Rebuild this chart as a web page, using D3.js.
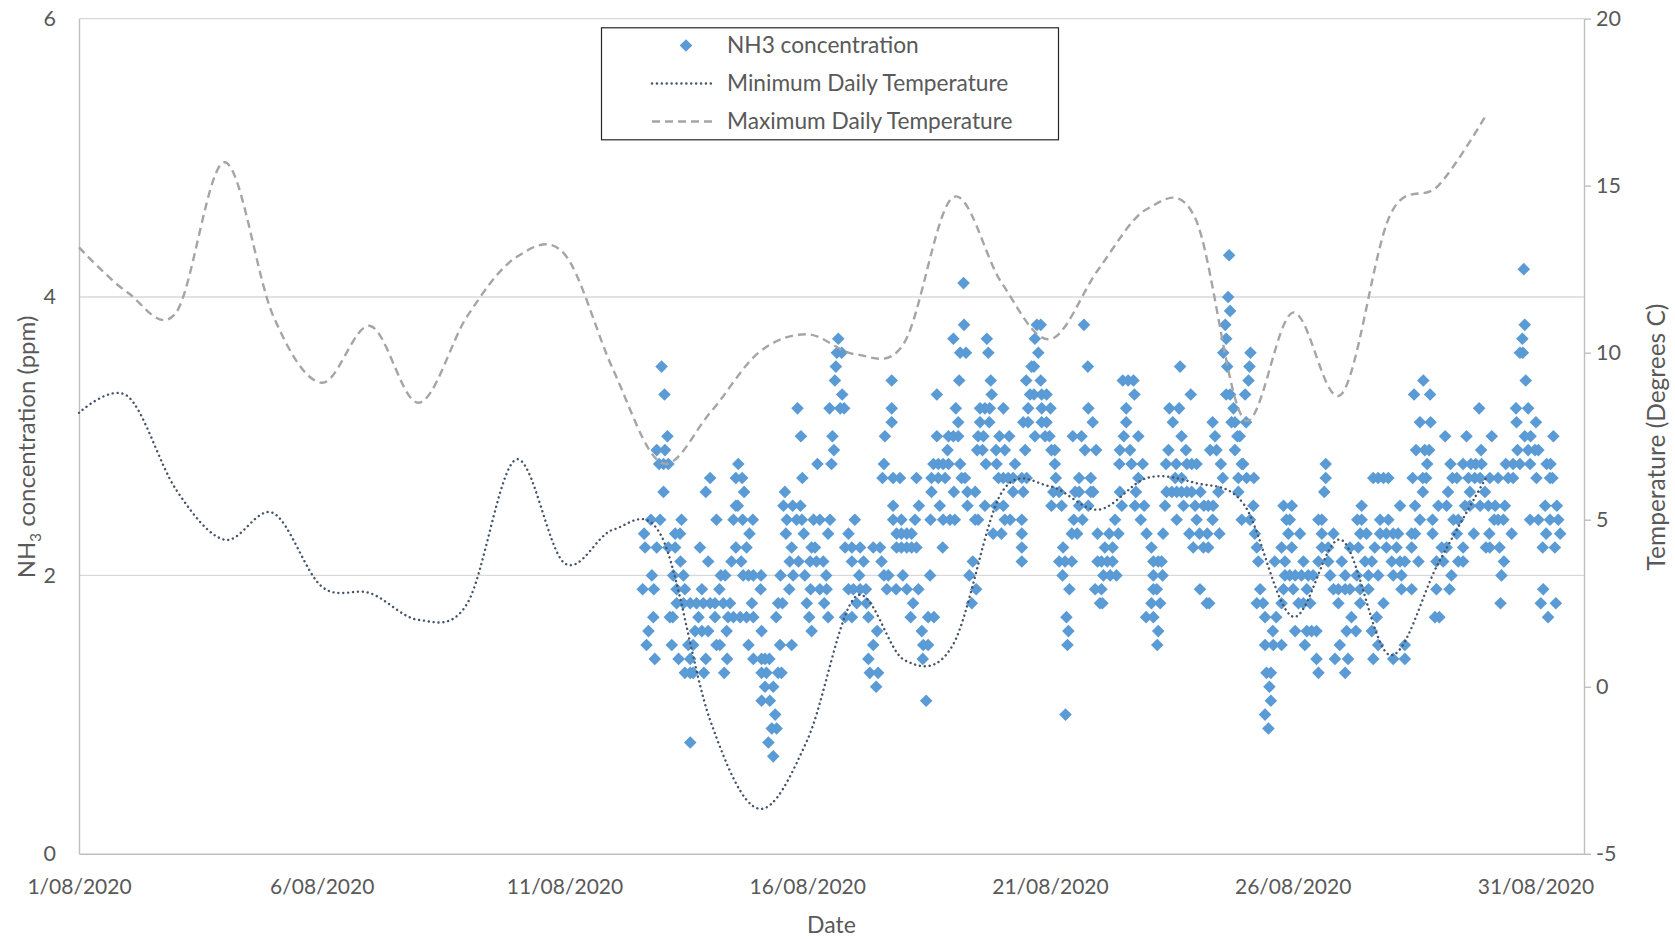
<!DOCTYPE html>
<html>
<head>
<meta charset="utf-8">
<script src="https://cdn.jsdelivr.net/npm/d3@7"></script>
<style>
  body { margin: 0; background: #fff; }
  text { font-family: Lato, "Open Sans", sans-serif; }
</style>
</head>
<body>
<div id="chart"></div>
<script>
// Daily temperatures (deg C), one value per day of August
const tempDays = [1, 2, 3, 4, 5, 6, 7, 8, 9, 10, 11, 12, 13, 14, 15, 16, 17, 18, 19, 20, 21, 22, 23, 24, 25, 26, 27, 28, 29, 30];
const maxTemp = [13.15, 11.8, 11.2, 15.7, 11.1, 9.1, 10.8, 8.5, 11.1, 12.85, 12.95, 9.5, 6.7, 8.2, 10.0, 10.55, 9.95, 10.3, 14.65, 12.1, 10.4, 12.5, 14.3, 14.0, 8.0, 11.2, 8.75, 14.1, 15.0, 17.15];
const minTemp = [8.2, 8.7, 5.9, 4.4, 5.2, 3.0, 2.8, 2.0, 2.5, 6.8, 3.7, 4.7, 4.5, -1.0, -3.65, -1.6, 2.7, 0.8, 1.25, 5.8, 6.0, 5.3, 6.25, 6.1, 5.45, 2.1, 4.4, 0.95, 3.7, 6.3];

// NH3 readings: [day of August (fractional), ppm]
const nh3 = [
  [13.00,3.5],[13.06,3.3],[13.12,3.0],[12.90,2.9],[13.07,2.9],[12.95,2.8],[13.04,2.8],[13.14,2.8],[14.00,2.7],[13.04,2.6],[13.91,2.6],[14.58,2.8],[14.53,2.7],[14.66,2.7],[14.70,2.6],[14.53,2.5],[14.57,2.5],
  [12.78,2.4],[12.97,2.4],[13.41,2.4],[14.13,2.4],[14.48,2.4],[14.67,2.4],[14.88,2.4],
  [12.64,2.3],[13.28,2.3],[13.38,2.3],[14.81,2.3],
  [12.66,2.2],[12.90,2.2],[13.14,2.2],[13.28,2.2],[13.79,2.2],[14.53,2.2],[14.75,2.2],
  [13.39,2.1],[13.96,2.1],[14.44,2.1],[14.64,2.1],
  [12.80,2.0],[13.24,2.0],[13.45,2.0],[14.22,2.0],[14.31,2.0],[14.68,2.0],[14.79,2.0],[14.89,2.0],
  [12.61,1.9],[12.84,1.9],[13.31,1.9],[13.48,1.9],[13.83,1.9],[14.19,1.9],
  [13.31,1.8],[13.45,1.8],[13.59,1.8],[13.72,1.8],[13.86,1.8],[14.00,1.8],[14.10,1.8],[14.27,1.8],[14.41,1.8],[14.86,1.8],
  [12.83,1.7],[13.17,1.7],[13.23,1.7],[13.76,1.7],[14.10,1.7],[14.37,1.7],[14.48,1.7],[14.62,1.7],[14.75,1.7],[14.89,1.7],
  [12.73,1.6],[13.69,1.6],[13.83,1.6],[13.96,1.6],[14.34,1.6],
  [12.69,1.5],[13.21,1.5],[13.55,1.5],[13.65,1.5],[14.13,1.5],[14.20,1.5],[14.79,1.5],
  [12.86,1.4],[13.35,1.4],[13.59,1.4],[13.91,1.4],[14.35,1.4],[14.89,1.4],
  [13.48,1.3],[13.59,1.3],[13.65,1.3],[13.87,1.3],[14.29,1.3],
  [13.59,0.8],
  [16.64,3.7],[16.61,3.6],[16.71,3.6],[16.59,3.5],[16.57,3.4],[16.72,3.3],
  [15.80,3.2],[16.46,3.2],[16.68,3.2],[16.76,3.2],
  [15.87,3.0],[16.52,3.0],[17.60,3.0],[16.55,2.9],
  [16.21,2.8],[16.50,2.8],[17.58,2.8],[15.90,2.7],[17.55,2.7],[15.54,2.6],
  [15.51,2.5],[15.70,2.5],[15.86,2.5],
  [15.58,2.4],[15.78,2.4],[15.89,2.4],[16.13,2.4],[16.26,2.4],[16.47,2.4],[16.98,2.4],
  [15.56,2.3],[15.93,2.3],[16.43,2.3],[16.85,2.3],
  [15.68,2.2],[16.09,2.2],[16.16,2.2],[16.78,2.2],[16.92,2.2],[17.09,2.2],[17.36,2.2],[17.50,2.2],
  [15.64,2.1],[15.82,2.1],[16.06,2.1],[16.19,2.1],[16.33,2.1],[16.92,2.1],[17.16,2.1],[17.53,2.1],
  [15.05,2.0],[15.45,2.0],[15.71,2.0],[15.95,2.0],[16.39,2.0],[17.07,2.0],[17.58,2.0],[17.67,2.0],
  [15.04,1.9],[15.63,1.9],[16.07,1.9],[16.26,1.9],[16.40,1.9],[16.85,1.9],[16.95,1.9],[17.09,1.9],[17.21,1.9],[17.64,1.9],
  [15.40,1.8],[15.49,1.8],[15.99,1.8],[16.35,1.8],[17.02,1.8],[17.22,1.8],
  [15.36,1.7],[16.04,1.7],[16.43,1.7],[16.78,1.7],[16.92,1.7],[17.26,1.7],
  [15.06,1.6],[16.09,1.6],[17.44,1.6],
  [15.44,1.5],[15.68,1.5],[17.36,1.5],
  [15.06,1.4],[15.13,1.4],[15.22,1.4],[17.26,1.4],
  [15.06,1.3],[15.16,1.3],[15.40,1.3],[15.47,1.3],[17.29,1.3],[17.46,1.3],
  [15.13,1.2],[15.30,1.2],[17.42,1.2],
  [15.06,1.1],[15.23,1.1],[15.34,1.0],[15.27,0.9],[15.37,0.9],[15.20,0.8],[15.30,0.7],
  [19.22,4.1],[19.23,3.8],[19.01,3.7],[19.70,3.7],[19.15,3.6],[19.27,3.6],[19.73,3.6],
  [17.74,3.4],[19.13,3.4],[19.78,3.4],[18.67,3.3],[19.80,3.3],
  [17.74,3.2],[19.06,3.2],[19.56,3.2],[19.66,3.2],[19.76,3.2],[20.04,3.2],
  [17.74,3.1],[19.11,3.1],[19.56,3.1],[19.75,3.1],
  [18.67,3.0],[18.91,3.0],[19.01,3.0],[19.11,3.0],[19.52,3.0],[19.63,3.0],[19.96,3.0],[20.16,3.0],
  [18.89,2.9],[19.50,2.9],[19.61,2.9],[19.89,2.9],[20.07,2.9],
  [18.60,2.8],[18.70,2.8],[18.80,2.8],[18.91,2.8],[19.15,2.8],[19.68,2.8],[19.90,2.8],[20.28,2.8],
  [17.77,2.7],[17.91,2.7],[18.25,2.7],[18.56,2.7],[18.70,2.7],[18.84,2.7],[19.18,2.7],[19.25,2.7],[19.94,2.7],[20.04,2.7],[20.14,2.7],[20.24,2.7],
  [18.56,2.6],[19.02,2.6],[19.30,2.6],[19.46,2.6],[20.24,2.6],
  [17.77,2.5],[18.30,2.5],[18.73,2.5],[19.30,2.5],[19.66,2.5],[19.89,2.5],[20.04,2.5],
  [17.77,2.4],[17.94,2.4],[18.22,2.4],[18.54,2.4],[18.80,2.4],[18.94,2.4],[19.04,2.4],[19.46,2.4],[19.52,2.4],[20.07,2.4],[20.18,2.4],
  [17.84,2.3],[17.94,2.3],[18.05,2.3],[18.15,2.3],[19.83,2.3],[20.00,2.3],
  [17.84,2.2],[17.94,2.2],[18.05,2.2],[18.15,2.2],[18.25,2.2],[18.79,2.2],
  [19.41,2.1],[17.97,2.0],[18.53,2.0],[19.34,2.0],
  [17.83,1.9],[18.05,1.9],[18.29,1.9],[19.48,1.9],[18.18,1.8],[19.39,1.8],
  [18.13,1.7],[18.49,1.7],[18.61,1.7],[18.36,1.6],[18.39,1.5],[18.49,1.5],[18.38,1.4],[18.45,1.1],
  [20.73,3.8],[20.81,3.8],[20.69,3.7],[20.76,3.6],[20.62,3.5],[20.67,3.5],[20.51,3.4],[20.81,3.4],
  [20.59,3.3],[20.67,3.3],[20.83,3.3],[20.93,3.3],[20.55,3.2],[20.83,3.2],[21.01,3.2],
  [20.45,3.1],[20.55,3.1],[20.83,3.1],[20.93,3.1],[20.69,3.0],[20.90,3.0],[20.99,3.0],
  [20.49,2.9],[21.03,2.9],[21.10,2.9],[21.10,2.8],[20.42,2.7],[20.52,2.7],[21.12,2.7],
  [20.45,2.6],[21.07,2.6],[21.19,2.6],[21.03,2.5],[21.24,2.5],
  [20.42,2.4],[20.42,2.3],[20.42,2.2],[20.42,2.1],
  [21.70,3.8],[21.78,3.5],[21.79,3.2],[21.88,3.1],[21.47,3.0],[21.65,3.0],[21.72,2.9],[21.95,2.9],
  [21.60,2.7],[21.84,2.7],[21.52,2.6],[21.60,2.6],[21.84,2.6],[21.89,2.6],[21.60,2.5],[21.79,2.5],
  [21.49,2.4],[21.67,2.4],
  [21.45,2.3],[21.56,2.3],[21.98,2.3],[22.22,2.3],[22.41,2.3],[22.99,2.3],
  [21.27,2.2],[22.13,2.2],[22.29,2.2],
  [21.19,2.1],[21.31,2.1],[21.45,2.1],[21.98,2.1],[22.06,2.1],[22.18,2.1],[22.29,2.1],
  [21.26,2.0],[22.10,2.0],[22.24,2.0],[22.37,2.0],
  [21.40,1.9],[21.93,1.9],[22.06,1.9],[22.03,1.8],[22.08,1.8],
  [21.34,1.7],[22.98,1.7],[21.38,1.6],[21.36,1.5],[21.32,1.0],
  [22.50,3.4],[22.61,3.4],[22.72,3.4],[22.74,3.3],[22.57,3.2],[22.57,3.1],[22.52,3.0],[22.82,3.0],
  [22.44,2.9],[22.65,2.9],[22.43,2.8],[22.68,2.8],[22.91,2.8],[22.82,2.7],[22.44,2.6],[22.77,2.6],
  [22.48,2.5],[22.75,2.5],[22.94,2.5],[22.34,2.4],[22.87,2.4],
  [24.69,4.3],[24.67,4.0],[24.71,3.9],[24.61,3.8],[24.63,3.7],[24.57,3.6],[25.13,3.6],
  [23.68,3.5],[24.65,3.5],[25.11,3.5],[25.09,3.4],
  [23.90,3.3],[24.63,3.3],[24.71,3.3],[25.02,3.3],
  [23.46,3.2],[23.66,3.2],[24.78,3.2],
  [23.53,3.1],[24.35,3.1],[24.74,3.1],[24.81,3.1],[25.04,3.1],
  [23.71,3.0],[24.40,3.0],[24.86,3.0],[24.91,3.0],
  [23.44,2.9],[23.80,2.9],[24.30,2.9],[24.43,2.9],[24.81,2.9],
  [23.39,2.8],[23.60,2.8],[23.82,2.8],[23.92,2.8],[24.02,2.8],[24.52,2.8],[24.95,2.8],[24.98,2.8],
  [23.58,2.7],[23.71,2.7],[24.56,2.7],[24.88,2.7],[25.05,2.7],[25.20,2.7],
  [23.40,2.6],[23.51,2.6],[23.61,2.6],[23.71,2.6],[23.82,2.6],[23.92,2.6],[24.10,2.6],[24.47,2.6],[24.88,2.6],
  [23.37,2.5],[23.75,2.5],[23.99,2.5],[24.17,2.5],[24.26,2.5],[24.36,2.5],[25.19,2.5],
  [23.61,2.4],[24.02,2.4],[24.35,2.4],[24.95,2.4],[25.12,2.4],
  [23.33,2.3],[23.87,2.3],[24.08,2.3],[24.24,2.3],[24.49,2.3],[25.22,2.3],
  [23.09,2.2],[23.95,2.2],[24.16,2.2],[24.26,2.2],[25.26,2.2],
  [23.13,2.1],[23.23,2.1],[23.30,2.1],[25.29,2.1],[25.63,2.1],
  [23.13,2.0],[23.32,2.0],
  [23.13,1.9],[23.20,1.9],[24.09,1.9],[25.33,1.9],
  [23.09,1.8],[23.27,1.8],[24.23,1.8],[24.28,1.8],[25.26,1.8],[25.39,1.8],
  [23.13,1.7],[25.43,1.7],[25.66,1.7],[23.23,1.6],[25.59,1.6],
  [23.21,1.5],[25.43,1.5],[25.60,1.5],
  [25.46,1.3],[25.55,1.3],[25.52,1.2],[25.55,1.1],[25.43,1.0],[25.50,0.9],
  [26.68,2.8],[26.68,2.7],[27.66,2.7],[27.76,2.7],[27.87,2.7],[27.97,2.7],[26.65,2.6],
  [25.81,2.5],[25.98,2.5],[27.42,2.5],[28.21,2.5],
  [25.87,2.4],[25.94,2.4],[26.53,2.4],[26.60,2.4],[27.33,2.4],[27.42,2.4],[27.80,2.4],[27.97,2.4],
  [25.91,2.3],[26.15,2.3],[26.60,2.3],[26.84,2.3],[27.39,2.3],[27.52,2.3],[27.80,2.3],[27.93,2.3],[28.07,2.3],[28.17,2.3],
  [25.77,2.2],[25.98,2.2],[26.60,2.2],[26.73,2.2],[27.18,2.2],[27.35,2.2],[27.69,2.2],[27.93,2.2],[28.14,2.2],
  [25.84,2.1],[26.22,2.1],[26.53,2.1],[26.73,2.1],[27.01,2.1],[27.49,2.1],[27.63,2.1],[28.04,2.1],[28.21,2.1],[28.31,2.1],
  [25.84,2.0],[25.94,2.0],[26.05,2.0],[26.18,2.0],[26.32,2.0],[26.42,2.0],[26.77,2.0],[27.08,2.0],[27.32,2.0],[27.56,2.0],[27.76,2.0],[28.07,2.0],[28.24,2.0],
  [25.81,1.9],[26.01,1.9],[26.29,1.9],[26.84,1.9],[26.94,1.9],[27.08,1.9],[27.18,1.9],[27.39,1.9],[27.56,1.9],[28.24,1.9],
  [25.77,1.8],[26.12,1.8],[26.22,1.8],[26.36,1.8],[26.94,1.8],[27.39,1.8],[27.87,1.8],
  [27.21,1.7],[27.73,1.7],
  [26.05,1.6],[26.29,1.6],[26.39,1.6],[26.49,1.6],[27.11,1.6],[27.30,1.6],[27.63,1.6],
  [25.77,1.5],[26.25,1.5],[26.97,1.5],[27.76,1.5],[28.31,1.5],
  [26.49,1.4],[26.87,1.4],[27.14,1.4],[27.66,1.4],[28.07,1.4],[28.31,1.4],
  [26.53,1.3],[27.08,1.3],
  [30.76,4.2],[30.78,3.8],[30.73,3.7],[30.68,3.6],[30.74,3.6],[28.69,3.4],[30.80,3.4],
  [28.50,3.3],[28.83,3.3],[29.84,3.2],[30.60,3.2],[30.85,3.2],
  [28.62,3.1],[28.84,3.1],[30.61,3.1],[31.01,3.1],
  [29.14,3.0],[29.58,3.0],[30.10,3.0],[30.78,3.0],[30.90,3.0],[31.37,3.0],
  [28.54,2.9],[28.72,2.9],[28.81,2.9],[29.88,2.9],[30.63,2.9],[30.85,2.9],[30.99,2.9],[31.06,2.9],
  [28.77,2.8],[29.25,2.8],[29.51,2.8],[29.67,2.8],[29.77,2.8],[29.89,2.8],[30.39,2.8],[30.54,2.8],[30.68,2.8],[30.89,2.8],[31.23,2.8],[31.31,2.8],
  [28.47,2.7],[28.68,2.7],[28.75,2.7],[29.29,2.7],[29.38,2.7],[29.62,2.7],[29.75,2.7],[29.86,2.7],[30.06,2.7],[30.23,2.7],[30.44,2.7],[30.54,2.7],[31.02,2.7],[31.30,2.7],[31.35,2.7],
  [28.68,2.6],[29.20,2.6],[29.65,2.6],[29.96,2.6],
  [28.52,2.5],[29.00,2.5],[29.17,2.5],[29.55,2.5],[29.65,2.5],[29.86,2.5],[30.03,2.5],[30.17,2.5],[30.37,2.5],[31.20,2.5],[31.44,2.5],
  [28.62,2.4],[28.88,2.4],[29.31,2.4],[29.41,2.4],[30.15,2.4],[30.23,2.4],[30.34,2.4],[30.89,2.4],[31.06,2.4],[31.30,2.4],[31.47,2.4],
  [28.45,2.3],[28.52,2.3],[28.88,2.3],[29.38,2.3],[29.73,2.3],[30.05,2.3],[30.51,2.3],[31.22,2.3],[31.51,2.3],
  [28.45,2.2],[29.07,2.2],[29.17,2.2],[29.51,2.2],[29.98,2.2],[30.06,2.2],[30.26,2.2],[31.15,2.2],[31.40,2.2],
  [28.59,2.1],[28.96,2.1],[29.10,2.1],[29.41,2.1],[29.51,2.1],[30.35,2.1],
  [29.27,2.0],[30.30,2.0],
  [28.45,1.9],[28.96,1.9],[29.23,1.9],[31.16,1.9],
  [30.28,1.8],[31.11,1.8],[31.42,1.8],
  [28.93,1.7],[29.02,1.7],[31.26,1.7]
];

const ppmTicks = [0, 2, 4, 6];
const tempTicks = [-5, 0, 5, 10, 15, 20];
const dateTicks = ["1/08/2020", "6/08/2020", "11/08/2020", "16/08/2020", "21/08/2020", "26/08/2020", "31/08/2020"];
const legendItems = ["NH3 concentration", "Minimum Daily Temperature", "Maximum Daily Temperature"];

const width = 1675, height = 939;
const plot = { left: 79, right: 1584, top: 18.6, bottom: 853.8 };

const svg = d3.select("#chart")
    .append("svg")
    .attr("width", width)
    .attr("height", height)
    .style("display", "block");

svg.append("rect").attr("width", width).attr("height", height).attr("fill", "#fff");

const parseDate = d3.timeParse("%d/%m/%Y");
const start = new Date(2020, 7, 1);
const toDate = day => new Date(start.getTime() + (day - 1) * 864e5);

const x = d3.scaleTime()
    .domain([start, new Date(2020, 8, 1)])
    .range([plot.left, plot.right]);
const yL = d3.scaleLinear().domain([0, 6]).range([plot.bottom, plot.top]);
const yR = d3.scaleLinear().domain([-5, 20]).range([plot.bottom, plot.top]);

const tickColor = "#595959";
const lineGrey = "#bfbfbf";

// gridlines
svg.append("g")
    .selectAll("line")
    .data(ppmTicks.filter(d => d > 0))
    .enter()
    .append("line")
    .attr("x1", plot.left).attr("x2", plot.right)
    .attr("y1", d => yL(d)).attr("y2", d => yL(d))
    .attr("stroke", "#d9d9d9")
    .attr("stroke-width", 1.4);

// left axis
const gLeft = svg.append("g")
    .attr("transform", `translate(${plot.left},0)`)
    .call(d3.axisLeft(yL).tickValues(ppmTicks).tickFormat(d => String(d)).tickSize(0).tickPadding(23));
gLeft.select(".domain").attr("stroke", lineGrey).attr("stroke-width", 1.4);
gLeft.selectAll("text").attr("fill", tickColor).style("font-size", "21.5px");

// right axis
const gRight = svg.append("g")
    .attr("transform", `translate(${plot.right},0)`)
    .call(d3.axisRight(yR).tickValues(tempTicks).tickFormat(d => String(d)).tickSizeInner(7).tickSizeOuter(0).tickPadding(5));
gRight.select(".domain").attr("stroke", lineGrey).attr("stroke-width", 1.4);
gRight.selectAll(".tick line").attr("stroke", lineGrey).attr("stroke-width", 1.4);
gRight.selectAll("text").attr("fill", tickColor).style("font-size", "21.5px");

// bottom axis
const gBottom = svg.append("g")
    .attr("transform", `translate(0,${plot.bottom})`)
    .call(d3.axisBottom(x)
        .tickValues(dateTicks.map(parseDate))
        .tickFormat(d3.timeFormat("%-d/%m/%Y"))
        .tickSize(0)
        .tickPadding(25));
gBottom.select(".domain").attr("stroke", lineGrey).attr("stroke-width", 1.4);
gBottom.selectAll("text").attr("fill", tickColor).style("font-size", "21px");

// NH3 scatter
const diamond = "M0,-6.3L6.3,0L0,6.3L-6.3,0Z";
svg.append("g")
    .selectAll("path")
    .data(nh3)
    .enter()
    .append("path")
    .attr("d", diamond)
    .attr("transform", d => `translate(${x(toDate(d[0]))},${yL(d[1])})`)
    .attr("fill", "#5b9bd5");

// temperature lines (secondary axis)
const line = values => d3.line()
    .x((d, i) => x(toDate(tempDays[i])))
    .y(d => yR(d))
    .curve(d3.curveCardinal.tension(0))(values);

svg.append("path")
    .attr("d", line(minTemp))
    .attr("fill", "none")
    .attr("stroke", "#44546a")
    .attr("stroke-width", 2.4)
    .attr("stroke-linecap", "round")
    .attr("stroke-dasharray", "0.1,4.8");

svg.append("path")
    .attr("d", line(maxTemp))
    .attr("fill", "none")
    .attr("stroke", "#a5a5a5")
    .attr("stroke-width", 2.4)
    .attr("stroke-dasharray", "8,5");

// axis titles
svg.append("text")
    .attr("x", (plot.left + plot.right) / 2)
    .attr("y", 925)
    .attr("dy", "0.35em")
    .attr("text-anchor", "middle")
    .attr("fill", tickColor)
    .style("font-size", "23px")
    .text("Date");

const leftTitle = svg.append("text")
    .attr("transform", "translate(27,447) rotate(-90)")
    .attr("dy", "0.35em")
    .attr("text-anchor", "middle")
    .attr("fill", tickColor)
    .style("font-size", "24px");
leftTitle.append("tspan").text("NH");
leftTitle.append("tspan").attr("dy", 6).style("font-size", "15px").text("3");
leftTitle.append("tspan").attr("dy", -6).text(" concentration (ppm)");

svg.append("text")
    .attr("transform", "translate(1656,437) rotate(-90)")
    .attr("dy", "0.35em")
    .attr("text-anchor", "middle")
    .attr("fill", tickColor)
    .style("font-size", "24.5px")
    .text("Temperature (Degrees C)");

// legend
const legend = svg.append("g");
legend.append("rect")
    .attr("x", 601.5).attr("y", 27.8)
    .attr("width", 457).attr("height", 112)
    .attr("fill", "#fff")
    .attr("stroke", "#262626")
    .attr("stroke-width", 1.2);

const rows = legend.selectAll(".row")
    .data(legendItems)
    .enter()
    .append("g")
    .attr("transform", (d, i) => `translate(0,${45.5 + i * 38})`);

rows.append("text")
    .attr("x", 727)
    .attr("dy", "0.35em")
    .attr("fill", tickColor)
    .style("font-size", "22.7px")
    .text(d => d);

rows.filter((d, i) => i === 0).append("path")
    .attr("d", diamond)
    .attr("transform", "translate(686,0)")
    .attr("fill", "#5b9bd5");
rows.filter((d, i) => i === 1).append("line")
    .attr("x1", 652).attr("x2", 714)
    .attr("stroke", "#44546a").attr("stroke-width", 2.4)
    .attr("stroke-linecap", "round").attr("stroke-dasharray", "0.1,4.8");
rows.filter((d, i) => i === 2).append("line")
    .attr("x1", 652).attr("x2", 714)
    .attr("stroke", "#a5a5a5").attr("stroke-width", 2.4)
    .attr("stroke-dasharray", "8,5");
</script>
</body>
</html>
